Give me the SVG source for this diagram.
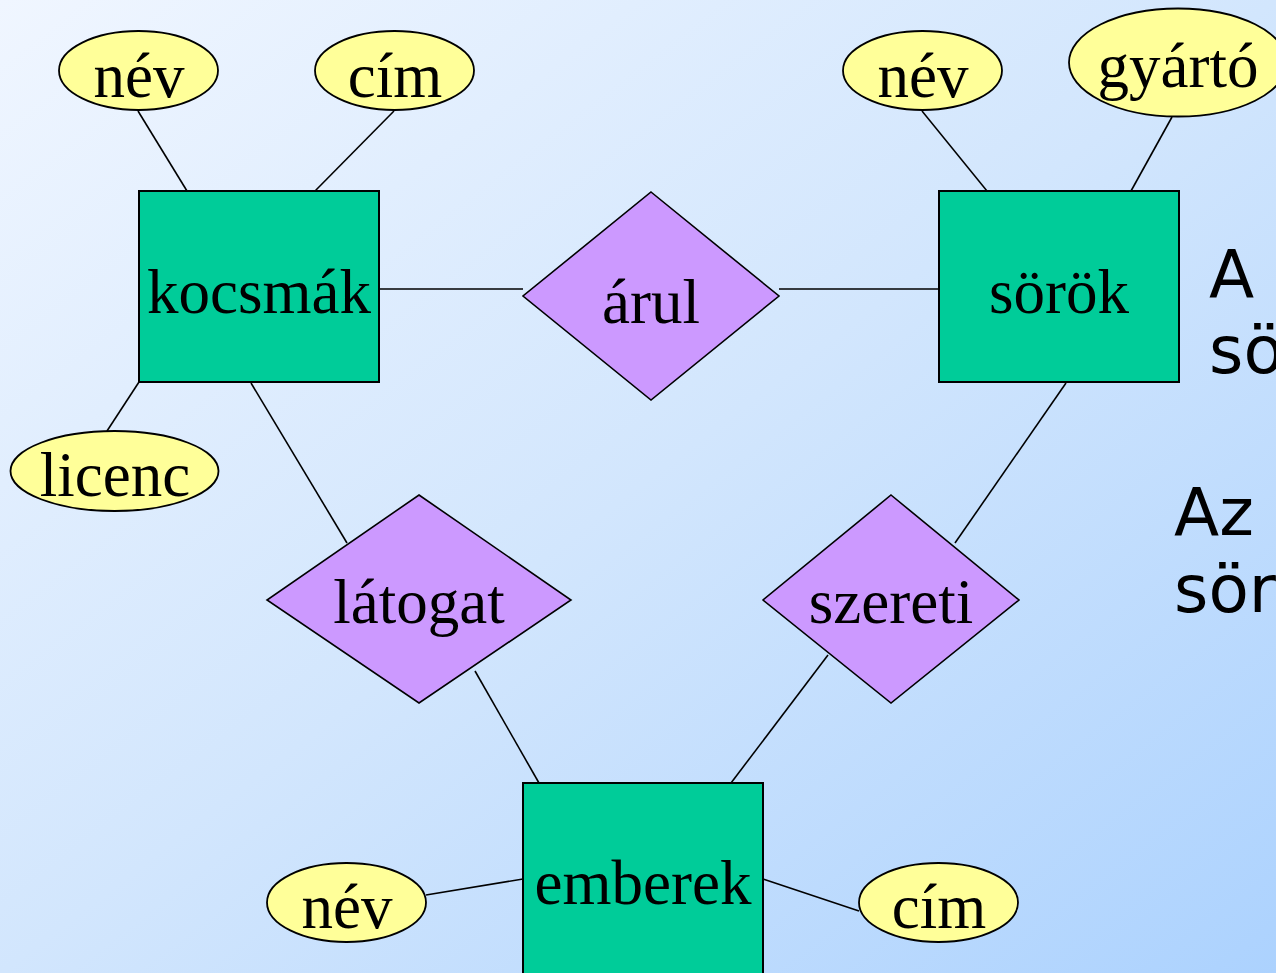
<svg xmlns="http://www.w3.org/2000/svg" width="1276" height="973" viewBox="0 0 1276 973">
<defs>
<linearGradient id="bg" x1="0" y1="0" x2="1" y2="1">
<stop offset="0" stop-color="#f0f6ff"/>
<stop offset="0.5" stop-color="#d2e6fd"/>
<stop offset="1" stop-color="#acd2fe"/>
</linearGradient>
<style>
.ent{fill:#00cc99;stroke:#000;stroke-width:2}
.rel{fill:#cc99ff;stroke:#000;stroke-width:1.6}
.att{fill:#ffff99;stroke:#000;stroke-width:1.8}
.lbl{font-family:"Liberation Serif","Times New Roman",serif;font-size:63px;fill:#000;text-anchor:middle}
.side{font-family:"DejaVu Sans",sans-serif;font-size:66px;fill:#000}
#connectors line{stroke:#000;stroke-width:1.6}
</style>
</defs>
<rect width="1276" height="973" fill="url(#bg)"/>
<g id="connectors">
<line x1="138" y1="111" x2="187" y2="191"/>
<line x1="394" y1="111" x2="315" y2="191"/>
<line x1="107" y1="431" x2="139" y2="382"/>
<line x1="379" y1="289" x2="523" y2="289"/>
<line x1="779" y1="289" x2="939" y2="289"/>
<line x1="922" y1="111" x2="987" y2="191"/>
<line x1="1172" y1="117" x2="1131" y2="191"/>
<line x1="251" y1="383" x2="347" y2="543"/>
<line x1="1066" y1="383" x2="955" y2="543"/>
<line x1="475" y1="671" x2="539" y2="783"/>
<line x1="828" y1="655" x2="731" y2="783"/>
<line x1="426" y1="895" x2="523" y2="879"/>
<line x1="763" y1="879" x2="859" y2="911"/>
</g>
<g id="kocsmak"><rect class="ent" x="139" y="191" width="240" height="191"/><text class="lbl" x="259" y="313">kocsmák</text></g>
<g id="sorok"><rect class="ent" x="939" y="191" width="240" height="191"/><text class="lbl" x="1059" y="313">sörök</text></g>
<g id="emberek"><rect class="ent" x="523" y="783" width="240" height="195"/><text class="lbl" x="643" y="904">emberek</text></g>
<g id="arul"><polygon class="rel" points="651,192 779,296 651,400 523,296"/><text class="lbl" x="651" y="323">árul</text></g>
<g id="latogat"><polygon class="rel" points="419,495 571,600 419,703 267,600"/><text class="lbl" x="419" y="623">látogat</text></g>
<g id="szereti"><polygon class="rel" points="891,495 1019,600 891,703 763,600"/><text class="lbl" x="891" y="623">szereti</text></g>
<g id="kocsmak-nev"><ellipse class="att" cx="138.5" cy="70.5" rx="79.5" ry="39.5"/><text class="lbl" x="139" y="97">név</text></g>
<g id="kocsmak-cim"><ellipse class="att" cx="394.5" cy="70.5" rx="79.5" ry="39.5"/><text class="lbl" x="395" y="97">cím</text></g>
<g id="kocsmak-licenc"><ellipse class="att" cx="114.5" cy="471" rx="104" ry="40"/><text class="lbl" x="115" y="496">licenc</text></g>
<g id="sorok-nev"><ellipse class="att" cx="922.5" cy="70.5" rx="79.5" ry="39.5"/><text class="lbl" x="923" y="97">név</text></g>
<g id="sorok-gyarto"><ellipse class="att" cx="1178" cy="62.5" rx="109" ry="54"/><text class="lbl" x="1178" y="87">gyártó</text></g>
<g id="emberek-nev"><ellipse class="att" cx="346.5" cy="902.5" rx="79.5" ry="39.5"/><text class="lbl" x="347" y="928">név</text></g>
<g id="emberek-cim"><ellipse class="att" cx="938.5" cy="902.5" rx="79.5" ry="39.5"/><text class="lbl" x="939" y="928">cím</text></g>
<g id="side-text">
<text class="side" x="1209" y="297">A</text>
<text class="side" x="1209" y="373">sö</text>
<text class="side" x="1174" y="535">Az</text>
<text class="side" x="1174" y="612">sör</text>
</g>
</svg>
